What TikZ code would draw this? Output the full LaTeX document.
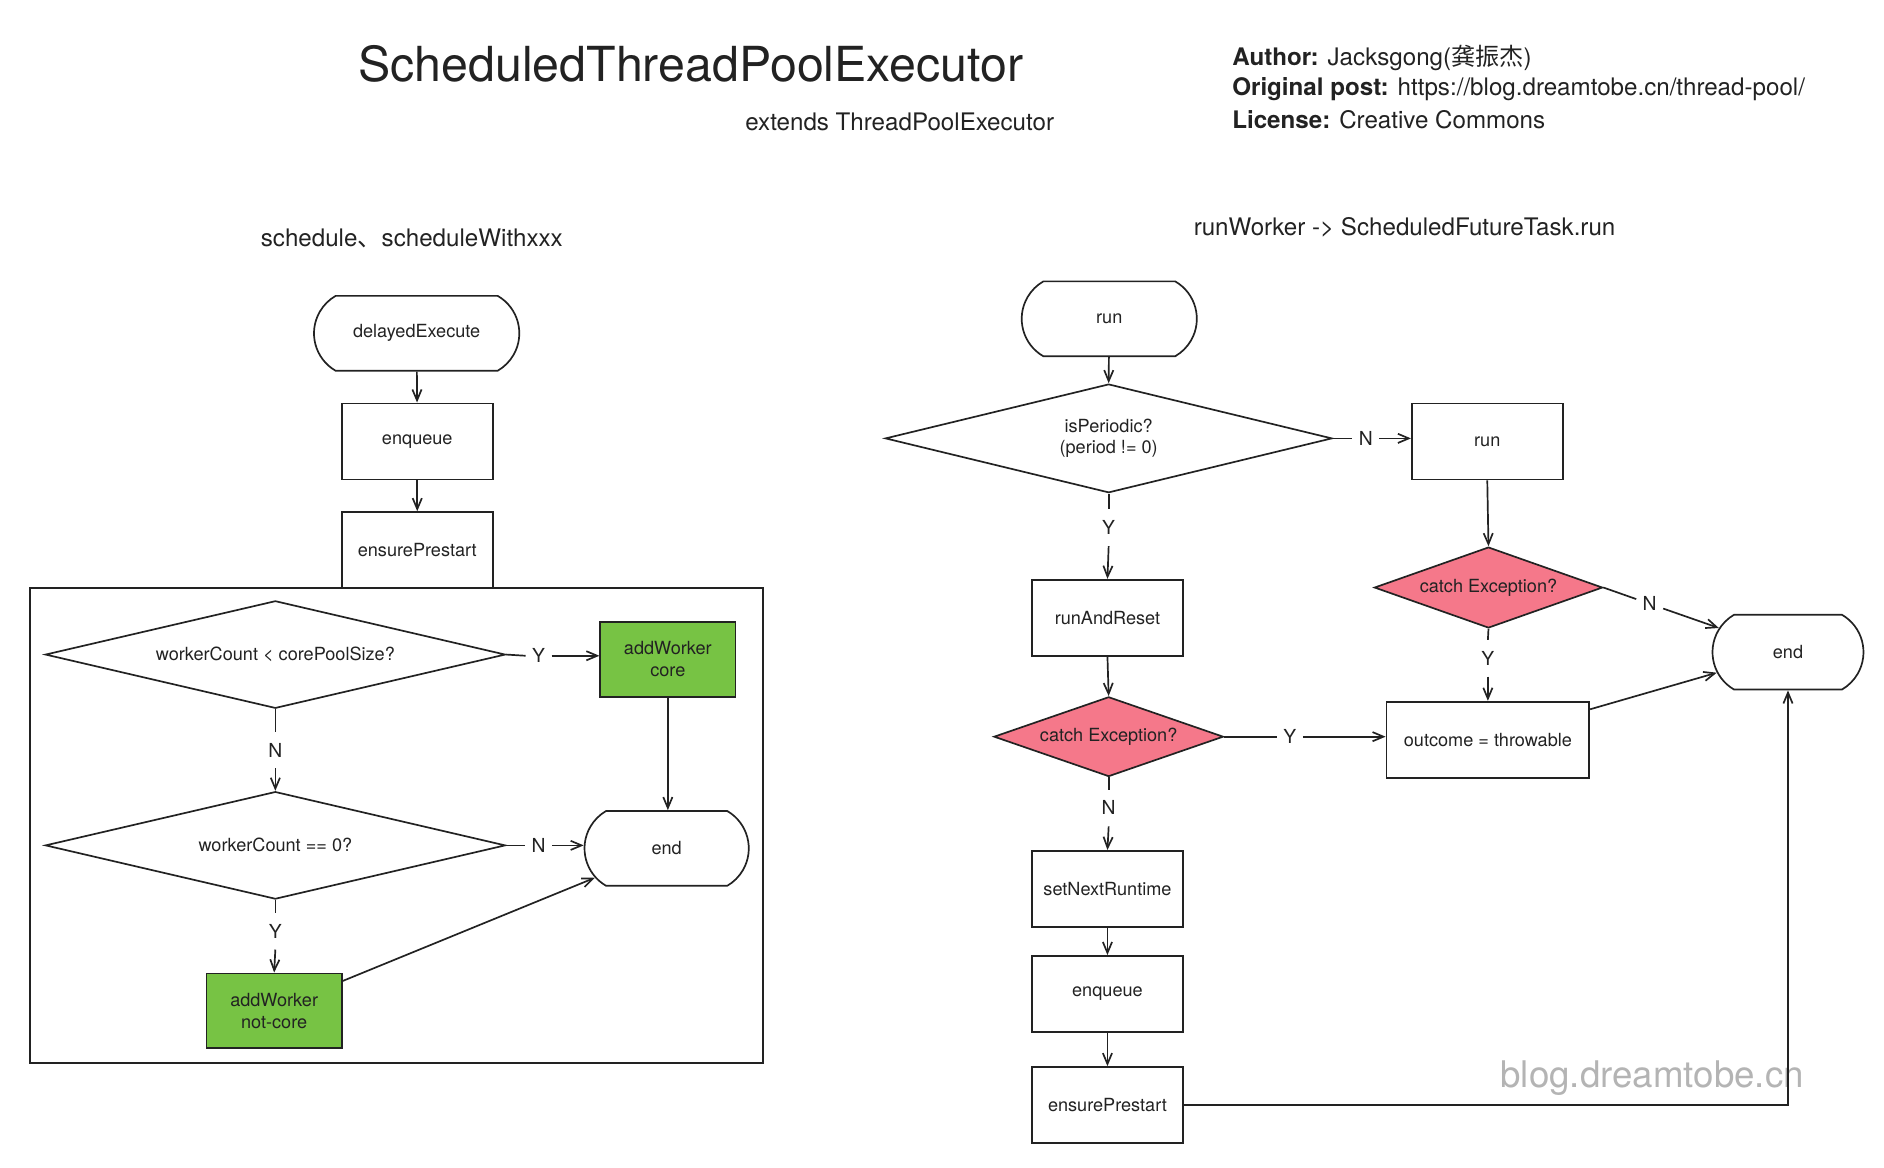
\documentclass[tikz,border=0pt]{standalone}
\usepackage{fontspec}
\setmainfont{TeX Gyre Heros}
\newfontfamily\cjkfont{Noto Sans CJK SC}
\usetikzlibrary{shapes.geometric,shapes.misc,arrows.meta,calc}
\definecolor{gr}{HTML}{77C344}
\definecolor{pk}{HTML}{F5788A}
\definecolor{ln}{HTML}{222222}
\definecolor{wm}{HTML}{B4B4B4}
\begin{document}
\begin{tikzpicture}[x=0.5pt,y=-0.5pt,
  >={Straight Barb[length=4.5pt,width=3.8pt]},
  every node/.style={font=\fontsize{7.5}{9}\selectfont, text=ln},
  box/.style={draw=ln, line width=0.7pt, rectangle, minimum width=62.5pt, minimum height=31.5pt, align=center, inner sep=0pt},
  term/.style={draw=ln, line width=0.7pt, rounded rectangle, rounded rectangle arc length=120, minimum height=31pt, inner sep=0pt},
  dec/.style={draw=ln, line width=0.7pt, diamond, shape aspect=3, inner sep=0pt, align=center},
  lbl/.style={inner xsep=2.5pt, inner ysep=4.5pt, font=\fontsize{8}{9}\selectfont},
  conn/.style={line width=0.7pt, draw=ln},
  big/.style={font=\fontsize{10}{12}\selectfont}]
\useasboundingbox (0,0) rectangle (1560,967);

% titles
\node[font=\fontsize{20}{24}\selectfont] (title) at (572,53) {ScheduledThreadPoolExecutor};
\node[big] (ext) at (745,101) {extends ThreadPoolExecutor};
\node[big, anchor=west, inner sep=0pt] (author) at (1020,48) {\textbf{Author:} Jacksgong({\cjkfont 龚振杰})};
\node[big, anchor=west, inner sep=0pt] (post) at (1020,74) {\textbf{Original post:} https://blog.dreamtobe.cn/thread-pool/};
\node[big, anchor=west, inner sep=0pt] (lic) at (1020,99) {\textbf{License:} Creative Commons};
\node[big] (h1) at (341,197) {schedule{\cjkfont 、}scheduleWithxxx};
\node[big] (h2) at (1163,188) {runWorker -> ScheduledFutureTask.run};
\node[font=\fontsize{15.2}{18}\selectfont, text=wm] (wmk) at (1368,893) {blog.dreamtobe.cn};

% left flow
\node[term, minimum width=85pt] (delayed) at (345,276) {delayedExecute};
\node[box] (enq1) at (345.5,365.5) {enqueue};
\node[box] (ens1) at (345.5,455.5) {ensurePrestart};
\node[draw=ln, line width=0.7pt, minimum width=303.5pt, minimum height=196.5pt, inner sep=0pt] (frame) at (328.5,683.5) {};
\node[dec, minimum width=190.5pt, minimum height=44.5pt] (d1) at (228,542) {workerCount < corePoolSize?};
\node[box, fill=gr, minimum width=56pt, minimum height=31pt] (core) at (553,546) {addWorker\\core};
\node[lbl] (y1) at (446,543) {Y};
\node[lbl] (n1) at (228,621) {N};
\node[dec, minimum width=190.5pt, minimum height=44.5pt] (d2) at (228,700) {workerCount == 0?};
\node[term, minimum width=68pt] (endL) at (552,702.5) {end};
\node[lbl] (n2) at (446,700) {N};
\node[lbl] (y2) at (228,771) {Y};
\node[box, fill=gr, minimum width=56pt, minimum height=31pt] (notcore) at (227,837) {addWorker\\not-core};

\draw[conn,->] (delayed) -- (enq1);
\draw[conn,->] (enq1) -- (ens1);
\draw[conn] (d1.east) -- (y1.west);
\draw[conn,->] (y1.east) -- (core.west |- y1.east);
\draw[conn] (d1.south) -- (n1.north);
\draw[conn,->] (n1.south) -- (d2.north);
\draw[conn,->] (core.south) -- (endL.north -| core.south);
\draw[conn] (d2.east) -- (n2.west);
\draw[conn,->] (n2.east) -- (endL.west |- n2.east);
\draw[conn] (d2.south) -- (y2.north);
\draw[conn,->] (y2.south) -- (notcore.north);
\coordinate (ncs) at ($(notcore.north east)+(0,7)$);
\draw[conn,->] (ncs) -- (endL);

% right flow
\node[term, minimum width=72.5pt] (run1) at (918.5,264) {run};
\node[dec, shape aspect=4, minimum width=185pt, minimum height=45pt] (dP) at (918,363) {isPeriodic?\\(period != 0)};
\node[lbl] (n3) at (1131,363) {N};
\node[box] (run2) at (1231.5,365.5) {run};
\node[lbl] (y3) at (918,437) {Y};
\node[box] (rar) at (917,511.5) {runAndReset};
\node[dec, fill=pk, minimum width=95pt, minimum height=33pt] (cL) at (918,610) {catch Exception?};
\node[dec, fill=pk, minimum width=94.5pt, minimum height=33.5pt] (cR) at (1232.5,486.5) {catch Exception?};
\node[term, minimum width=62.5pt] (endR) at (1480.5,540) {end};
\node[lbl, inner sep=2.5pt] (n4) at (1366,500) {N};
\node[lbl] (y4) at (1232,545) {Y};
\node[box, minimum width=84pt] (outc) at (1232,612.5) {outcome = throwable};
\node[lbl] (y5) at (1068,610) {Y};
\node[lbl] (n5) at (918,669) {N};
\node[box] (snr) at (917,736) {setNextRuntime};
\node[box] (enq2) at (917,823) {enqueue};
\node[box] (ens2) at (917,915) {ensurePrestart};

\draw[conn,->] (run1) -- (dP.north);
\draw[conn] (dP.east) -- (n3.west);
\draw[conn,->] (n3.east) -- (run2.west |- n3.east);
\draw[conn] (dP.south) -- (y3.north);
\draw[conn,->] (y3.south) -- (rar.north);
\draw[conn,->] (rar.south) -- (cL.north);
\draw[conn,->] (run2.south) -- (cR.north);
\draw[conn] (cR.east) -- (n4);
\draw[conn,->] (n4) -- (endR);
\draw[conn] (cR.south) -- (y4.north);
\draw[conn,->] (y4.south) -- (outc.north);
\draw[conn] (cL.east) -- (y5.west);
\draw[conn,->] (y5.east) -- (outc.west |- y5.east);
\coordinate (ocs) at ($(outc.north east)+(0,7)$);
\draw[conn,->] (ocs) -- (endR);
\draw[conn] (cL.south) -- (n5.north);
\draw[conn,->] (n5.south) -- (snr.north);
\draw[conn,->] (snr) -- (enq2);
\draw[conn,->] (enq2) -- (ens2);
\draw[conn,->] (ens2.east) -| (endR.south);
\end{tikzpicture}
\end{document}
